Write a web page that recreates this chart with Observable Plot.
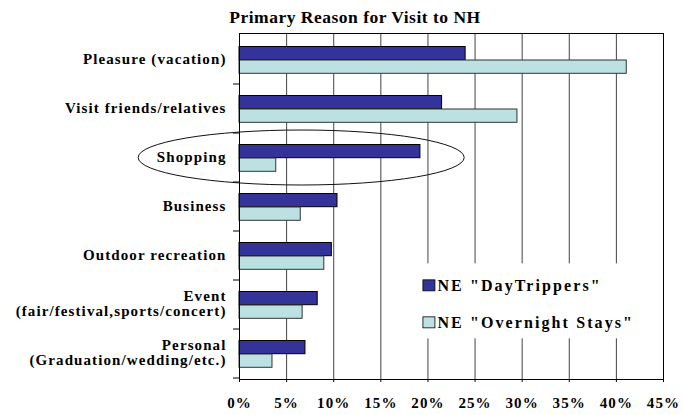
<!DOCTYPE html>
<html><head><meta charset="utf-8">
<script src="https://cdn.jsdelivr.net/npm/d3@7"></script>
<script src="https://cdn.jsdelivr.net/npm/@observablehq/plot@0.6"></script>
<style>
  body { margin: 0; background: #fff; }
  #chart { width: 683px; height: 415px; }
  #chart svg text { letter-spacing: 1.1px; }
</style>
</head><body><div id="chart"></div>
<script>
const title = "Primary Reason for Visit to NH";
const categories = [
  "Pleasure (vacation)",
  "Visit friends/relatives",
  "Shopping",
  "Business",
  "Outdoor recreation",
  "Event\n(fair/festival,sports/concert)",
  "Personal\n(Graduation/wedding/etc.)"
];
const seriesNames = ['NE "DayTrippers"', 'NE "Overnight Stays"'];
const dayTrippers = [24.0, 21.5, 19.2, 10.4, 9.8, 8.3, 7.0];
const overnightStays = [41.1, 29.5, 3.9, 6.5, 9.0, 6.7, 3.5];
const xTicks = [0, 5, 10, 15, 20, 25, 30, 35, 40, 45];
const highlighted = "Shopping";
const highlightCenter = 6.6;   // % position of annotation ellipse centre
const highlightHalfWidth = 17.3; // % half width of annotation ellipse

const colors = ["#333399", "#BBE1E3"];
const strokes = ["#000", "#333"];

const dtRows = categories.map((c, i) => ({category: c, series: seriesNames[0], value: dayTrippers[i]}));
const onRows = categories.map((c, i) => ({category: c, series: seriesNames[1], value: overnightStays[i]}));

const font = "'Liberation Serif','Times New Roman',serif";

const plot = Plot.plot({
  width: 683,
  height: 415,
  marginLeft: 239,
  marginRight: 20,
  marginTop: 33,
  marginBottom: 36,
  style: {fontFamily: font, fontWeight: "bold", fontSize: "15px", color: "#000", background: "#fff"},
  x: {domain: [0, 45], ticks: xTicks, tickFormat: d => d + "%", tickSize: 3, tickPadding: 15, label: null},
  y: {domain: categories, padding: 0, axis: null, label: null},
  marks: [
    Plot.ruleX(xTicks.slice(1, -1), {stroke: "#444", strokeWidth: 1}),
    Plot.barX(dtRows, {x: "value", y: "category", fill: colors[0], stroke: strokes[0], strokeWidth: 1, insetTop: 11.5, insetBottom: 24.3}),
    Plot.barX(onRows, {x: "value", y: "category", fill: colors[1], stroke: strokes[1], strokeWidth: 1, insetTop: 25, insetBottom: 10.7}),
    Plot.text(categories, {x: () => 0, y: d => d, text: d => d, textAnchor: "end", dx: -13, dy: -1, fontSize: 15, fontWeight: "bold", lineHeight: 1.0, ariaLabel: "ylabels", fill: "#000"}),
    Plot.frame({stroke: "#000", strokeWidth: 1})
  ]
});

document.getElementById("chart").appendChild(plot);
const svg = d3.select(plot);
const xs = plot.scale("x");
const ys = plot.scale("y");
const bw = ys.bandwidth;

// center multi-line category labels on each other, keeping right edge
svg.selectAll('g[aria-label="ylabels"] text').each(function() {
  const el = this;
  if (el.querySelectorAll("tspan").length > 1) {
    const b0 = el.getBBox();
    const r0 = b0.x + b0.width;
    el.setAttribute("text-anchor", "middle");
    const b1 = el.getBBox();
    const r1 = b1.x + b1.width;
    const tr = el.getAttribute("transform") || "";
    el.setAttribute("transform", tr + ` translate(${r0 - r1},0)`);
  }
});

// y-axis tick marks at category boundaries
const left = xs.apply(0);
const bounds = categories.slice(1).map(c => ys.apply(c)).concat([ys.apply(categories[categories.length - 1]) + bw]);
svg.append("g").selectAll("line").data(bounds).join("line")
  .attr("x1", left - 6).attr("x2", left).attr("y1", d => d).attr("y2", d => d)
  .attr("stroke", "#000");

// legend
const lg = svg.append("g").attr("text-anchor", "start");
const lx = xs.apply(18.3), rx = xs.apply(45) - 1;
const yTop = ys.apply(categories[4]) + bw * 0.66;
lg.append("rect").attr("x", lx).attr("y", yTop).attr("width", rx - lx).attr("height", 75).attr("fill", "#fff");
seriesNames.forEach((s, i) => {
  const cy = yTop + 22 + i * 37;
  lg.append("rect").attr("x", lx + 11.5).attr("y", cy - 5.5).attr("width", 12).attr("height", 11)
    .attr("fill", colors[i]).attr("stroke", "#000").attr("stroke-width", 0.8);
  lg.append("text").attr("x", lx + 26).attr("y", cy + 5.5).attr("text-anchor", "start")
    .attr("font-family", font).attr("font-weight", "bold").attr("font-size", 16)
    .style("letter-spacing", "2.1px").text(s);
});

// annotation ellipse around highlighted category
const hc = ys.apply(highlighted) + bw / 2;
svg.append("ellipse")
  .attr("cx", xs.apply(highlightCenter)).attr("cy", hc)
  .attr("rx", xs.apply(highlightCenter + highlightHalfWidth) - xs.apply(highlightCenter)).attr("ry", 27.5)
  .attr("fill", "none").attr("stroke", "#111").attr("stroke-width", 1);

// title
svg.append("text").attr("x", 355).attr("y", 22.5).attr("text-anchor", "middle")
  .attr("font-family", font).attr("font-weight", "bold").attr("font-size", 17.5)
  .style("letter-spacing", "0.5px").text(title);
</script>
</body></html>
